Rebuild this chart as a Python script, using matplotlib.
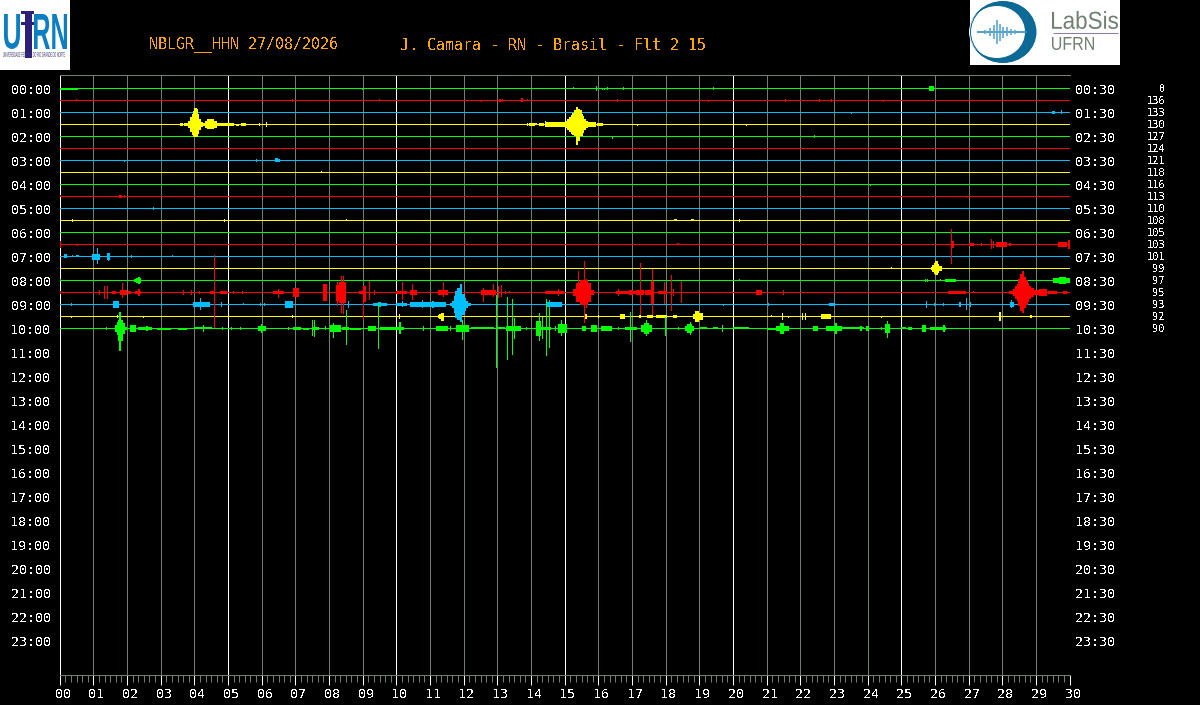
import matplotlib
matplotlib.use("Agg")
import matplotlib.pyplot as plt
from matplotlib.patches import Rectangle, Ellipse, PathPatch
from matplotlib.textpath import TextPath
from matplotlib.font_manager import FontProperties
from matplotlib.transforms import Affine2D, ScaledTranslation

plt.rcParams['text.antialiased'] = False
plt.rcParams['font.family'] = ['DejaVu Sans Mono']

title_left = "NBLGR__HHN 27/08/2026"
title_right = "J. Camara - RN - Brasil - Flt 2 15"
gain_labels = [0, 136, 133, 130, 127, 124, 121, 118, 116, 113, 110,
               108, 105, 103, 101, 99, 97, 95, 93, 92, 90]
hours = list(range(24))
minutes = list(range(31))

# each event: minute start, minute end, pixels above, pixels below
trace_00 = [(0.0, 0.5, 0, 1), (8.99, 8.99, 0, 1), (15.25, 15.25, 1, 0), (15.93, 15.93, 2, 2),
            (16.1, 16.1, 0, 1), (16.16, 16.16, 0, 1), (16.26, 16.26, 1, 1), (16.73, 16.73, 1, 1),
            (19.41, 19.41, 1, 1), (25.83, 25.95, 2, 2)]
trace_01 = [(0.48, 0.48, 1, 0), (6.9, 6.9, 1, 1), (9.49, 9.49, 1, 0), (12.5, 12.5, 0, 1),
            (13.05, 13.09, 1, 1), (13.14, 13.14, 1, 1), (13.7, 13.74, 2, 1), (13.88, 13.88, 1, 0),
            (16.55, 16.55, 1, 1), (19.26, 19.26, 0, 1), (21.54, 21.54, 1, 1), (22.55, 22.55, 1, 1),
            (22.9, 22.9, 1, 1), (24.45, 24.45, 0, 1)]
trace_02 = [(23.5, 23.5, 0, 1), (29.47, 29.54, 1, 1), (29.75, 29.75, 2, 1)]
trace_03 = [(3.56, 3.62, 1, 1), (3.7, 3.8, 1, 1), (3.82, 3.88, 3, 3), (3.88, 3.92, 7, 7), (3.92, 3.96, 10, 10),
            (3.96, 4.0, 13, 12), (4.0, 4.04, 16, 12), (4.04, 4.08, 15, 12), (4.08, 4.12, 10, 9), (4.12, 4.16, 5, 5),
            (4.16, 4.22, 2, 2), (4.22, 4.3, 1, 1), (4.32, 4.38, 3, 3), (4.38, 4.55, 5, 4), (4.55, 4.65, 3, 3),
            (4.65, 5.1, 1, 1), (5.1, 5.15, 1, 1), (5.25, 5.3, 0, 1), (5.38, 5.5, 1, 1), (5.92, 5.92, 1, 1),
            (6.12, 6.12, 2, 2), (13.89, 13.89, 1, 1), (13.95, 14.0, 1, 1), (14.0, 14.1, 1, 1), (14.1, 14.14, 1, 0),
            (14.25, 14.36, 1, 1), (14.41, 15.0, 2, 2), (14.41, 14.41, 3, 1), (15.03, 15.08, 3, 3), (15.08, 15.13, 5, 5),
            (15.13, 15.18, 7, 7), (15.18, 15.23, 9, 9), (15.23, 15.28, 11, 10), (15.28, 15.33, 14, 11),
            (15.33, 15.37, 17, 20), (15.37, 15.42, 15, 16), (15.42, 15.47, 14, 11), (15.47, 15.51, 10, 11),
            (15.51, 15.55, 8, 8), (15.55, 15.6, 5, 5), (15.6, 15.65, 3, 3), (15.65, 15.9, 2, 2), (15.95, 16.1, 1, 1),
            (17.15, 17.15, 0, 1), (20.39, 20.39, 0, 1)]
trace_04 = [(16.41, 16.41, 0, 2), (22.41, 22.41, 1, 1)]
trace_05 = []
trace_06 = [(1.91, 1.91, 0, 1), (5.82, 5.82, 1, 1), (6.4, 6.44, 2, 1), (6.47, 6.52, 1, 1)]
trace_07 = [(7.76, 7.76, 1, 0)]
trace_08 = [(24.06, 24.06, 0, 1)]
trace_09 = [(0.0, 0.0, 1, 0), (1.75, 1.81, 1, 1), (1.91, 1.91, 1, 1), (26.93, 26.93, 0, 1)]
trace_10 = [(2.77, 2.77, 1, 1)]
trace_11 = [(0.37, 0.37, 1, 1), (4.88, 4.88, 1, 1), (8.51, 8.51, 1, 0), (18.25, 18.3, 1, 0),
            (18.75, 18.8, 1, 0), (20.18, 20.18, 1, 1)]
trace_12 = []
trace_13 = [(0.0, 0.0, 3, 3), (0.5, 0.5, 0, 1), (18.33, 18.38, 1, 0), (26.47, 26.47, 15, 19), (26.47, 26.53, 3, 3),
            (27.0, 27.12, 1, 1), (27.38, 27.38, 1, 1), (27.67, 27.67, 5, 4), (27.72, 27.72, 3, 3),
            (27.82, 28.04, 2, 2), (28.08, 28.12, 2, 2), (28.2, 28.24, 1, 1), (28.56, 28.56, 0, 0),
            (29.65, 29.9, 2, 2), (29.95, 29.98, 4, 4)]
trace_14 = [(0.13, 0.18, 2, 1), (0.38, 0.38, 1, 0), (0.48, 0.55, 1, 0), (0.85, 0.9, 0, 0),
            (0.97, 1.16, 2, 3), (1.11, 1.11, 8, 7), (1.4, 1.46, 3, 3), (1.44, 1.44, 3, 4),
            (2.13, 2.13, 1, 1), (3.34, 3.34, 1, 0)]
trace_15 = [(24.7, 24.7, 1, 0), (25.88, 25.92, 1, 1), (25.92, 25.96, 3, 3), (25.96, 26.0, 5, 5),
            (26.0, 26.05, 7, 6), (26.05, 26.09, 4, 4), (26.09, 26.18, 2, 2)]
trace_16 = [(0.0, 0.0, 1, 0), (2.2, 2.25, 1, 1), (2.28, 2.4, 2, 2), (2.33, 2.36, 3, 3), (20.18, 20.18, 1, 0),
            (25.69, 25.69, 1, 1), (25.76, 25.76, 1, 1), (26.14, 26.14, 1, 0), (26.3, 26.58, 1, 1),
            (29.5, 29.98, 2, 2), (29.68, 29.85, 3, 3)]
trace_17 = [(0.0, 0.0, 1, 1), (1.17, 1.17, 2, 2), (1.31, 1.31, 6, 6), (1.41, 1.41, 6, 6), (1.55, 1.63, 1, 1), (1.78, 1.98, 2, 2),
            (1.84, 1.84, 9, 5), (2.03, 2.1, 1, 1), (2.23, 2.38, 1, 1), (2.33, 2.36, 3, 3), (3.66, 3.66, 2, 2),
            (3.91, 3.91, 2, 2), (4.13, 4.13, 1, 1), (4.46, 4.55, 1, 1), (4.58, 4.58, 37, 35), (4.75, 4.95, 1, 1),
            (5.15, 5.15, 1, 1), (5.42, 5.42, 1, 1), (6.34, 6.63, 1, 1), (6.48, 6.48, 3, 5), (6.93, 7.08, 4, 4),
            (7.82, 7.9, 8, 8), (8.2, 8.3, 7, 8), (8.3, 8.47, 10, 10), (8.25, 8.25, 10, 13), (8.37, 8.37, 16, 20),
            (8.42, 8.42, 16, 21), (8.9, 9.0, 1, 1), (9.0, 9.06, 6, 9), (9.01, 9.01, 2, 26), (9.2, 9.2, 11, 7),
            (9.35, 9.35, 2, 2), (10.0, 10.3, 1, 1), (10.17, 10.17, 10, 7), (10.47, 10.47, 8, 7), (10.4, 10.58, 2, 2),
            (11.24, 11.5, 2, 2), (11.39, 11.39, 10, 4), (12.52, 12.92, 2, 2), (12.57, 12.57, 4, 9), (12.87, 12.87, 8, 4),
            (13.02, 13.02, 6, 5), (13.12, 13.12, 7, 4), (13.22, 13.22, 1, 1), (13.35, 13.35, 1, 0), (14.4, 14.95, 1, 1),
            (14.8, 14.8, 3, 3), (15.25, 15.35, 3, 3), (15.35, 15.75, 9, 9), (15.4, 15.4, 21, 3), (15.45, 15.65, 12, 12),
            (15.56, 15.56, 31, 30), (15.64, 15.64, 13, 15), (15.75, 15.84, 2, 2), (16.53, 17.33, 1, 1), (16.58, 16.58, 3, 3),
            (16.9, 17.0, 2, 2), (17.13, 17.33, 2, 2), (17.23, 17.23, 29, 23), (17.38, 17.53, 2, 2), (17.59, 17.59, 23, 22),
            (17.56, 17.62, 11, 11), (17.78, 18.02, 1, 1), (17.94, 17.94, 10, 11), (18.17, 18.17, 17, 18), (18.22, 18.22, 3, 3),
            (18.44, 18.44, 11, 10), (19.98, 19.98, 1, 0), (20.69, 20.84, 2, 2), (21.49, 21.49, 2, 2), (26.39, 26.88, 1, 1),
            (27.12, 27.12, 1, 0), (28.2, 28.32, 1, 1), (28.32, 28.37, 3, 3), (28.37, 28.42, 6, 6), (28.42, 28.47, 8, 8),
            (28.47, 28.52, 13, 13), (28.52, 28.57, 18, 18), (28.57, 28.62, 21, 20), (28.62, 28.67, 15, 15), (28.67, 28.72, 12, 12),
            (28.72, 28.77, 9, 9), (28.77, 28.82, 6, 6), (28.82, 28.9, 4, 4), (28.9, 29.1, 2, 2), (29.1, 29.3, 3, 3),
            (29.35, 29.6, 1, 1), (29.8, 29.9, 1, 1)]
trace_18 = [(0.33, 0.33, 1, 1), (1.58, 1.73, 3, 3), (3.0, 3.0, 1, 1), (3.96, 4.43, 2, 2), (4.18, 4.18, 6, 5), (4.8, 4.8, 2, 2),
            (5.44, 5.44, 1, 0), (5.96, 5.96, 1, 1), (6.06, 6.06, 1, 1), (6.68, 6.91, 3, 3), (8.55, 8.55, 3, 3),
            (9.3, 9.7, 1, 1), (9.45, 9.5, 2, 2), (10.0, 10.3, 1, 1), (10.18, 10.18, 3, 2), (10.4, 11.43, 2, 2),
            (10.75, 10.75, 4, 3), (11.05, 11.1, 3, 3), (11.2, 11.3, 2, 2), (11.6, 11.65, 1, 1), (11.65, 11.7, 3, 3), (11.7, 11.75, 8, 8),
            (11.75, 11.8, 13, 13), (11.8, 11.88, 16, 15), (11.88, 11.93, 20, 17), (11.93, 12.0, 10, 10), (12.0, 12.05, 6, 6),
            (12.05, 12.1, 3, 3), (12.1, 12.2, 1, 1), (12.5, 12.5, 0, 0), (14.47, 14.9, 2, 2), (14.52, 14.52, 4, 3),
            (19.7, 19.7, 0, 1), (21.04, 21.04, 1, 1), (22.85, 23.0, 1, 1), (25.74, 25.74, 3, 3), (25.97, 25.97, 1, 1),
            (26.24, 26.24, 1, 1), (26.7, 26.74, 2, 2), (26.93, 26.93, 6, 5), (27.03, 27.03, 2, 2), (28.22, 28.32, 2, 2),
            (28.26, 28.26, 4, 3)]
trace_19 = [(0.35, 0.35, 0, 1), (1.71, 1.71, 1, 1), (2.47, 2.47, 0, 1), (6.9, 6.9, 1, 1), (10.08, 10.08, 2, 2),
            (11.24, 11.28, 1, 1), (11.28, 11.33, 2, 2), (11.33, 11.38, 3, 4), (15.59, 15.62, 2, 2), (16.0, 16.0, 1, 1),
            (16.63, 16.75, 2, 2), (17.21, 17.25, 1, 1), (17.43, 17.6, 1, 1), (17.72, 18.02, 1, 1), (18.22, 18.3, 1, 1),
            (18.8, 18.88, 2, 2), (18.88, 18.95, 5, 5), (18.95, 19.08, 3, 3), (21.14, 21.14, 1, 0), (21.46, 21.46, 3, 3),
            (21.63, 21.63, 0, 1), (22.05, 22.05, 3, 3), (22.14, 22.14, 3, 3), (22.62, 22.87, 2, 2), (24.39, 24.39, 0, 1),
            (27.9, 27.94, 4, 4), (28.81, 28.84, 1, 1)]
trace_20 = [(1.39, 1.39, 1, 1), (1.65, 1.7, 3, 3), (1.7, 1.74, 6, 6), (1.74, 1.76, 8, 12), (1.76, 1.8, 16, 22), (1.8, 1.84, 8, 12), (1.84, 1.9, 5, 5),
            (1.9, 1.96, 1, 1), (2.08, 2.23, 3, 3), (2.33, 2.72, 1, 1), (2.56, 2.6, 2, 2), (2.88, 3.27, 0, 1),
            (3.52, 3.76, 0, 1), (4.0, 4.5, 1, 0), (4.26, 4.26, 3, 3), (4.83, 4.83, 1, 1), (5.1, 5.1, 1, 1), (5.35, 5.35, 1, 1),
            (5.9, 6.1, 2, 2), (5.99, 5.99, 4, 4), (6.78, 6.78, 1, 1), (6.93, 7.13, 1, 1), (7.23, 7.38, 0, 1), (7.48, 7.68, 1, 1),
            (7.5, 7.5, 8, 7), (7.56, 7.56, 8, 8), (7.87, 7.87, 2, 1), (8.03, 8.33, 3, 3), (8.13, 8.13, 5, 9), (8.38, 8.57, 1, 1),
            (8.51, 8.51, 18, 16), (8.61, 8.91, 0, 1), (9.16, 9.36, 2, 2), (9.45, 9.45, 25, 20), (9.5, 10.2, 1, 1), (10.07, 10.1, 6, 5),
            (10.79, 10.79, 2, 2), (11.19, 11.5, 2, 2), (11.4, 11.4, 8, 9), (11.6, 11.6, 2, 2), (11.78, 12.13, 3, 3), (11.95, 11.95, 8, 11),
            (12.23, 12.87, 1, 0), (12.97, 12.97, 33, 39), (12.99, 13.2, 1, 0), (13.29, 13.29, 31, 31), (13.26, 13.67, 2, 2), (13.44, 13.44, 29, 26),
            (13.48, 13.5, 10, 10), (13.86, 13.86, 1, 1), (14.16, 14.26, 7, 7), (14.24, 14.24, 15, 12), (14.33, 14.33, 11, 10),
            (14.43, 14.43, 29, 27), (14.3, 14.55, 1, 1), (14.54, 14.54, 20, 19), (14.7, 14.7, 2, 2), (14.8, 15.05, 4, 4),
            (14.9, 14.9, 8, 7), (15.5, 15.6, 2, 2), (15.79, 15.94, 3, 3), (16.09, 16.39, 2, 2), (16.58, 16.58, 1, 1), (16.78, 17.13, 1, 1),
            (16.94, 16.94, 16, 13), (17.28, 17.57, 3, 3), (17.35, 17.47, 5, 5), (17.41, 17.41, 8, 7), (17.98, 17.98, 11, 7), (18.37, 18.37, 1, 1),
            (18.56, 18.81, 2, 2), (18.64, 18.76, 4, 4), (18.71, 18.71, 6, 6), (19.01, 19.21, 1, 0), (19.41, 19.51, 1, 0), (19.68, 19.68, 3, 3),
            (20.0, 20.45, 1, 0), (21.0, 21.25, 0, 1), (21.29, 21.64, 2, 2), (21.39, 21.49, 5, 5), (22.38, 22.48, 2, 2),
            (22.78, 22.87, 2, 2), (22.77, 23.22, 2, 2), (23.02, 23.05, 5, 5), (23.22, 23.86, 1, 0),
            (23.76, 23.8, 2, 2), (23.96, 24.0, 2, 2), (24.4, 24.4, 1, 1), (24.5, 24.63, 4, 4), (24.57, 24.57, 7, 9),
            (25.0, 25.1, 1, 0), (25.2, 25.3, 1, 1), (25.6, 25.7, 3, 3), (25.85, 26.3, 1, 1), (26.24, 26.28, 3, 3)]

traces = [trace_00, trace_01, trace_02, trace_03, trace_04, trace_05, trace_06, trace_07, trace_08, trace_09, trace_10,
          trace_11, trace_12, trace_13, trace_14, trace_15, trace_16, trace_17, trace_18, trace_19, trace_20]
colors = ['#00ff00', '#ff0000', '#00bfff', '#ffff00']
GRID = '#6f806f'

W, H = 1200, 705
fig = plt.figure(figsize=(W / 100, H / 100), dpi=100, facecolor='black')
ax = fig.add_axes([59.7 / W, 1 - 675 / H, 1010 / W, 600 / H], facecolor='black')
ax.set_xlim(0, 30)
ax.set_ylim(587 / 24, -13 / 24)
px_x = 30 / 1010  # one pixel in minutes
px_y = 1 / 24     # one pixel in hours

for m in minutes:
    c = 'white' if m % 5 == 0 else GRID
    ax.axvline(m, color=c, lw=0.72, snap=True, zorder=1)

# traces, spaced half an hour
for i, trace in enumerate(traces):
    y = i * 0.5
    c = colors[i % 4]
    ax.axhline(y, color=c, lw=0.72, snap=True, zorder=2)
    for t0, t1, up, dn in trace:
        ax.add_patch(Rectangle((t0, y - up * px_y), t1 - t0 + px_x, (up + dn + 1) * px_y,
                               fc=c, ec='none', lw=0, snap=True, antialiased=False, zorder=3))

for name in ['left', 'right']:
    ax.spines[name].set_visible(False)
for name in ['top', 'bottom']:
    ax.spines[name].set_color(GRID)
    ax.spines[name].set_linewidth(0.72)

ax.set_xticks(minutes)
ax.set_xticks([k / 6 for k in range(181)], minor=True)
ax.set_xticklabels(['%02d' % m for m in minutes], color='white', fontsize=9.6)
ax.tick_params(axis='x', which='major', length=7, width=0.72, color='white', pad=2)
ax.tick_params(axis='x', which='minor', length=5, width=0.72, color=GRID)
shift = ScaledTranslation(3 / 100, 0, fig.dpi_scale_trans)
for lab in ax.get_xticklabels():
    lab.set_transform(lab.get_transform() + shift)
ax.set_yticks(hours)
ax.set_yticklabels(['%02d:00' % h for h in hours], color='white', fontsize=9.6)
ax.tick_params(axis='y', length=0, pad=6.5)
down = ScaledTranslation(0, -1 / 100, fig.dpi_scale_trans)
for lab in ax.get_yticklabels():
    lab.set_transform(lab.get_transform() + down)

trans = ax.get_yaxis_transform()
for h in hours:
    ax.text(1 + 5.5 / 1010, h + 2 * px_y, '%02d:30' % h, color='white', fontsize=9.6, va='center', ha='left',
            transform=trans, clip_on=False)
for i, g in enumerate(gain_labels):
    ax.text(1 + 95.5 / 1010, i * 0.5 + px_y, str(g), color='white', fontsize=7.5, va='center', ha='right',
            transform=trans, clip_on=False)

fig.text(149 / W, 1 - 45 / H, title_left, color='#ffa500', fontsize=10.8, va='center')
fig.text(400 / W, 1 - 45 / H, title_right, color='#ffa500', fontsize=10.8, va='center')

# logos, drawn in pixel coordinates
logo = fig.add_axes([0, 0, 1, 1], facecolor='none')
logo.set_xlim(0, W)
logo.set_ylim(H, 0)
logo.axis('off')


def fit_text(s, x0, y0, x1, y1, color, family='Liberation Sans', weight='normal'):
    path = TextPath((0, 0), s, size=10, prop=FontProperties(family=family, weight=weight))
    box = path.get_extents()
    tr = (Affine2D().translate(-box.x0, -box.y0).scale((x1 - x0) / box.width, -(y1 - y0) / box.height)
          .translate(x0, y1))
    logo.add_patch(PathPatch(path.transformed(tr), fc=color, ec='none', lw=0))


logo.add_patch(Rectangle((0, 0), 70, 70, fc='white', ec='none'))
fit_text('U', 4, 14, 20, 49, '#0b7fc2', weight='bold')
logo.add_patch(Rectangle((21, 11), 13, 3, fc='#2b1f7a', ec='none'))
logo.add_patch(Rectangle((25, 11), 7, 47, fc='#2b1f7a', ec='none'))
logo.add_patch(Rectangle((21, 22), 13, 3, fc='#2b1f7a', ec='none'))
fit_text('RN', 34, 14, 67, 49, '#0b7fc2', weight='bold')
fit_text('UNIVERSIDADE FEDERAL DO RIO GRANDE DO NORTE', 3, 52, 65, 57, '#3a3a70')

logo.add_patch(Rectangle((970, 0), 150, 65, fc='white', ec='none'))
logo.add_patch(Ellipse((1003, 32), 67, 62, fc='#0d6a96', ec='none'))
logo.add_patch(Ellipse((997, 32), 56, 52, fc='white', ec='none'))
logo.add_patch(Ellipse((1003, 32), 65, 60, fc='none', ec='#0d6a96', lw=0.75))
logo.hlines(32, 977, 1027, color='#2f8fc4', lw=1.2)
logo.vlines([985, 990, 994, 997, 1000, 1003, 1007, 1011, 1015, 1020],
            [30, 28, 25, 20, 24, 27, 27, 29, 30, 31], [34, 36, 39, 44, 41, 38, 36, 35, 34, 33],
            color='#5aa9d6', lw=1.2)
fit_text('LabSis', 1052, 11, 1118, 29, '#6f8070')
logo.hlines(32.5, 1053, 1118, color='#8a7cab', lw=0.75)
fit_text('UFRN', 1052, 37, 1094, 50, '#6f8070')

fig.savefig('out.png', dpi=100, facecolor='black')
